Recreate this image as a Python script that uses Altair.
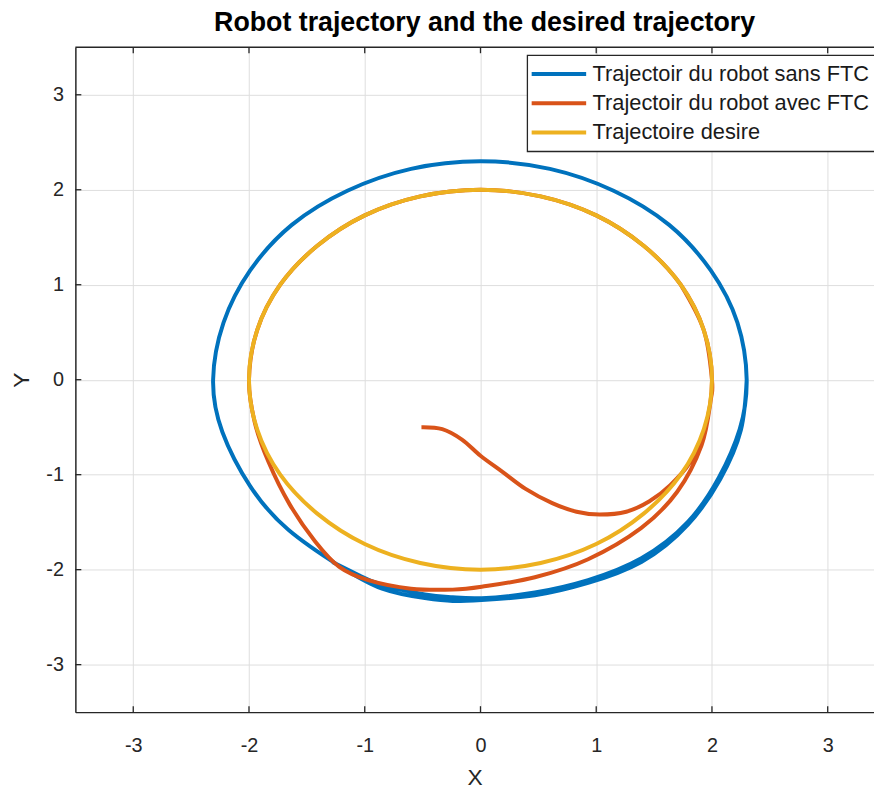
import altair as alt
import pandas as pd

SERIES = ["Trajectoir du robot sans FTC", "Trajectoir du robot avec FTC", "Trajectoire desire"]
COLORS = ["#0072BD", "#D95319", "#EDB120"]
TICKS = [-3, -2, -1, 0, 1, 2, 3]

# Trajectoir du robot sans FTC (blue)
blue_x = [-1.28, -1.05, -0.85, -0.48, -0.24, 0.01, 0.47, 0.93, 1.39, 1.79, 2.06, 2.24, 2.30,
          2.22, 1.99, 1.63, 1.15, 0.60, 0.00, -0.60, -1.15, -1.63, -1.99, -2.22, -2.31,
          -2.23, -1.99, -1.66, -1.22, -0.85, -0.48, -0.24, 0.01, 0.47, 0.93, 1.39, 1.79,
          2.07, 2.25, 2.30]
blue_y = [-1.92, -2.06, -2.16, -2.26, -2.29, -2.30, -2.24, -2.11, -1.88, -1.50, -1.03, -0.52, 0.00,
          0.60, 1.15, 1.63, 1.99, 2.22, 2.30, 2.22, 1.99, 1.63, 1.15, 0.60, 0.00,
          -0.55, -1.12, -1.58, -1.96, -2.20, -2.30, -2.33, -2.32, -2.27, -2.14, -1.92, -1.53,
          -1.05, -0.53, 0.00]

# Trajectoir du robot avec FTC (red)
red_x = [-0.51, -0.33, -0.16, 0.00, 0.19, 0.39, 0.62, 0.83, 1.03, 1.26, 1.46, 1.64, 1.81, 1.94,
         2.00, 1.93, 1.73, 1.41, 1.00, 0.52, 0.00, -0.52, -1.00, -1.41, -1.73, -1.93,
         -2.00, -1.95, -1.83, -1.65, -1.43, -1.22, -0.97, -0.60, -0.24, 0.01, 0.47, 0.93,
         1.39, 1.70, 1.91, 1.99, 2.00, 1.93, 1.73]
red_y = [-0.50, -0.52, -0.63, -0.80, -0.97, -1.15, -1.30, -1.39, -1.42, -1.39, -1.28, -1.11, -0.87, -0.52,
         0.00, 0.52, 1.00, 1.41, 1.73, 1.93, 2.00, 1.93, 1.73, 1.41, 1.00, 0.52,
         0.00, -0.45, -0.87, -1.31, -1.70, -1.97, -2.11, -2.20, -2.21, -2.18, -2.08, -1.89,
         -1.56, -1.18, -0.69, -0.21, 0.00, 0.52, 1.00]

# Trajectoire desire (yellow)
yel_x = [2.00, 1.93, 1.73, 1.41, 1.00, 0.52, 0.00, -0.52, -1.00, -1.41, -1.73, -1.93,
         -2.00, -1.93, -1.73, -1.41, -1.00, -0.52, 0.00, 0.52, 1.00, 1.41, 1.73, 1.93]
yel_y = [0.00, 0.52, 1.00, 1.41, 1.73, 1.93, 2.00, 1.93, 1.73, 1.41, 1.00, 0.52,
         0.00, -0.52, -1.00, -1.41, -1.73, -1.93, -2.00, -1.93, -1.73, -1.41, -1.00, -0.52]

rows = []
for name, xs, ys in zip(SERIES, [blue_x, red_x, yel_x], [blue_y, red_y, yel_y]):
    for i, (xv, yv) in enumerate(zip(xs, ys)):
        rows.append({"series": name, "order": i, "x": xv, "y": yv})
df = pd.DataFrame(rows)
ticks_df = pd.DataFrame({"x": TICKS, "y": TICKS})

W, H = 806, 671
FONT = "Liberation Sans"
DARK = "#262626"

xscale = alt.Scale(domain=[-3.5, 3.40], nice=False, zero=False)
yscale = alt.Scale(domain=[-3.5, 3.5], nice=False, zero=False)

xaxis = alt.Axis(values=TICKS, title="X", grid=True, gridColor="#dedede", gridWidth=1,
                 domainColor=DARK, domainWidth=1.5, ticks=False, tickSize=0,
                 labelFont=FONT, labelFontSize=20, labelColor=DARK, labelPadding=24,
                 labelExpr="'' + datum.value",
                 titleFont=FONT, titleFontSize=23, titleFontWeight="normal", titleColor=DARK,
                 titlePadding=11)
yaxis = alt.Axis(values=TICKS, title="Y", grid=True, gridColor="#dedede", gridWidth=1,
                 domainColor=DARK, domainWidth=1.5, ticks=False, tickSize=0,
                 labelFont=FONT, labelFontSize=20, labelColor=DARK, labelPadding=12,
                 labelExpr="'' + datum.value",
                 titleFont=FONT, titleFontSize=23, titleFontWeight="normal", titleColor=DARK,
                 titlePadding=13)

color = alt.Color("series:N", sort=SERIES,
                  scale=alt.Scale(domain=SERIES, range=COLORS),
                  legend=alt.Legend(title=None, orient="none", legendX=456, legendY=8,
                                    symbolType="M-5,0L5,0", symbolSize=121, symbolStrokeWidth=4,
                                    symbolOffset=13, labelOffset=23,
                                    labelFont=FONT, labelFontSize=22, labelColor="#1a1a1a",
                                    padding=8, rowPadding=7.5, labelLimit=500,
                                    fillColor="white", strokeColor=DARK))


def traj(name, interp):
    return alt.Chart(df).transform_filter(alt.datum.series == name).mark_line(
        interpolate=interp, strokeWidth=4, clip=True
    ).encode(
        x=alt.X("x:Q", scale=xscale, axis=xaxis),
        y=alt.Y("y:Q", scale=yscale, axis=yaxis),
        color=color,
        order=alt.Order("order:Q"),
    )


blue = traj(SERIES[0], "natural")
red = traj(SERIES[1], "cardinal")
yellow = traj(SERIES[2], "cardinal-closed")

tick_style = dict(color=DARK, strokeWidth=1.3)
bottom_ticks = alt.Chart(ticks_df).mark_rule(**tick_style).encode(
    x=alt.X("x:Q", scale=xscale, axis=xaxis), y=alt.value(H), y2=alt.value(H - 6))
top_ticks = alt.Chart(ticks_df).mark_rule(**tick_style).encode(
    x=alt.X("x:Q", scale=xscale, axis=xaxis), y=alt.value(0), y2=alt.value(6))
left_ticks = alt.Chart(ticks_df).mark_rule(**tick_style).encode(
    y=alt.Y("y:Q", scale=yscale, axis=yaxis), x=alt.value(0), x2=alt.value(6))
top_border = alt.Chart(pd.DataFrame({"a": [0]})).mark_rule(color=DARK, strokeWidth=1.5).encode(
    x=alt.value(0), x2=alt.value(W), y=alt.value(0))

chart = alt.layer(blue, red, yellow, bottom_ticks, top_ticks, left_ticks, top_border).properties(
    width=W, height=H,
    autosize=alt.AutoSizeParams(type="none"),
    padding={"left": 68, "top": 36, "right": 0, "bottom": 80},
    background="white",
    title=alt.TitleParams("Robot trajectory and the desired trajectory", font=FONT, fontSize=27,
                          fontWeight="bold", color="#000000", anchor="middle", frame="group",
                          baseline="alphabetic", offset=13, dx=10, dy=24),
).configure_view(stroke=None).configure_legend(strokeWidth=1.3)

chart.save("out.html", embed_options={"renderer": "svg", "actions": False})
